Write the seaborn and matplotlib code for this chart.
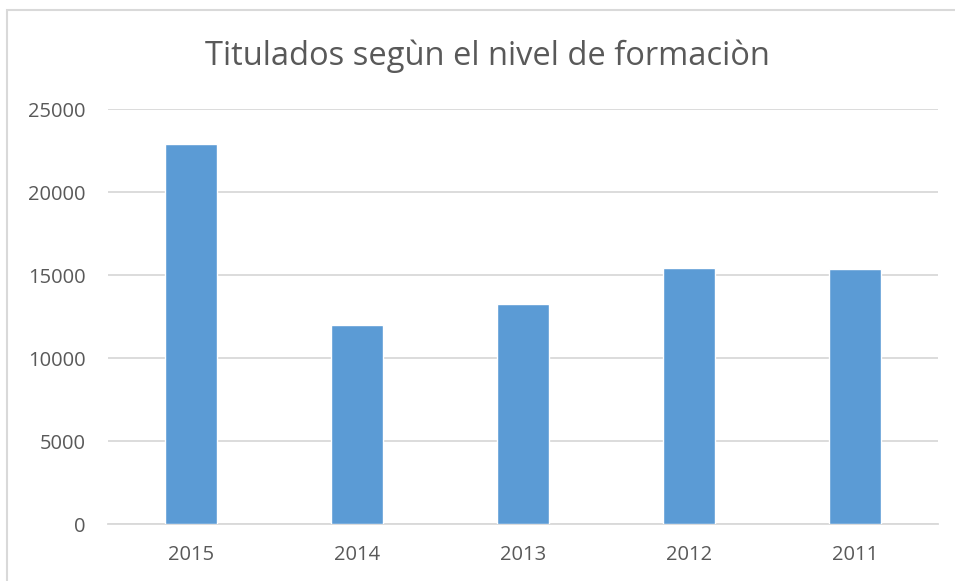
import matplotlib
matplotlib.use("Agg")
import matplotlib.pyplot as plt
from matplotlib.patches import Rectangle
import seaborn as sns
import pandas as pd

# Titulados por año
years = ["2015", "2014", "2013", "2012", "2011"]
titulados = [22930, 11980, 13260, 15460, 15390]

df = pd.DataFrame({"year": years, "titulados": titulados})

sns.set_style("white")
plt.rcParams["font.family"] = ["Open Sans", "DejaVu Sans"]

fig = plt.figure(figsize=(9.55, 5.81), dpi=100)
ax = fig.add_axes([0.113, 0.098, 0.869, 0.714])

sns.barplot(data=df, x="year", y="titulados", color="#5B9BD5", width=0.31,
            saturation=1, ax=ax, zorder=3)

ax.set_ylim(0, 25000)
ax.set_yticks(range(0, 25001, 5000))
ax.yaxis.grid(True, color="#D9D9D9", linewidth=1.3, zorder=0)
ax.set_axisbelow(True)
for s in ["top", "right", "left"]:
    ax.spines[s].set_visible(False)
ax.spines["bottom"].set_color("#D9D9D9")
ax.spines["bottom"].set_linewidth(1.3)
ax.tick_params(axis="both", length=0, labelsize=14.5, colors="#595959")
ax.tick_params(axis="y", pad=16)
ax.tick_params(axis="x", pad=15)
ax.set_xlabel("")
ax.set_ylabel("")

fig.text(0.51, 1 - 65 / 581, "Titulados segùn el nivel de formaciòn", fontsize=23.5,
         color="#595959", ha="center", va="baseline")

# borde del gráfico (cortado a la derecha y abajo)
fig.patches.append(Rectangle((7 / 955, -0.05), 1.2, 1 - 10 / 581 + 0.05,
                             transform=fig.transFigure, fill=False,
                             edgecolor="#D9D9D9", linewidth=1.5))

fig.savefig("out.png", dpi=100)
